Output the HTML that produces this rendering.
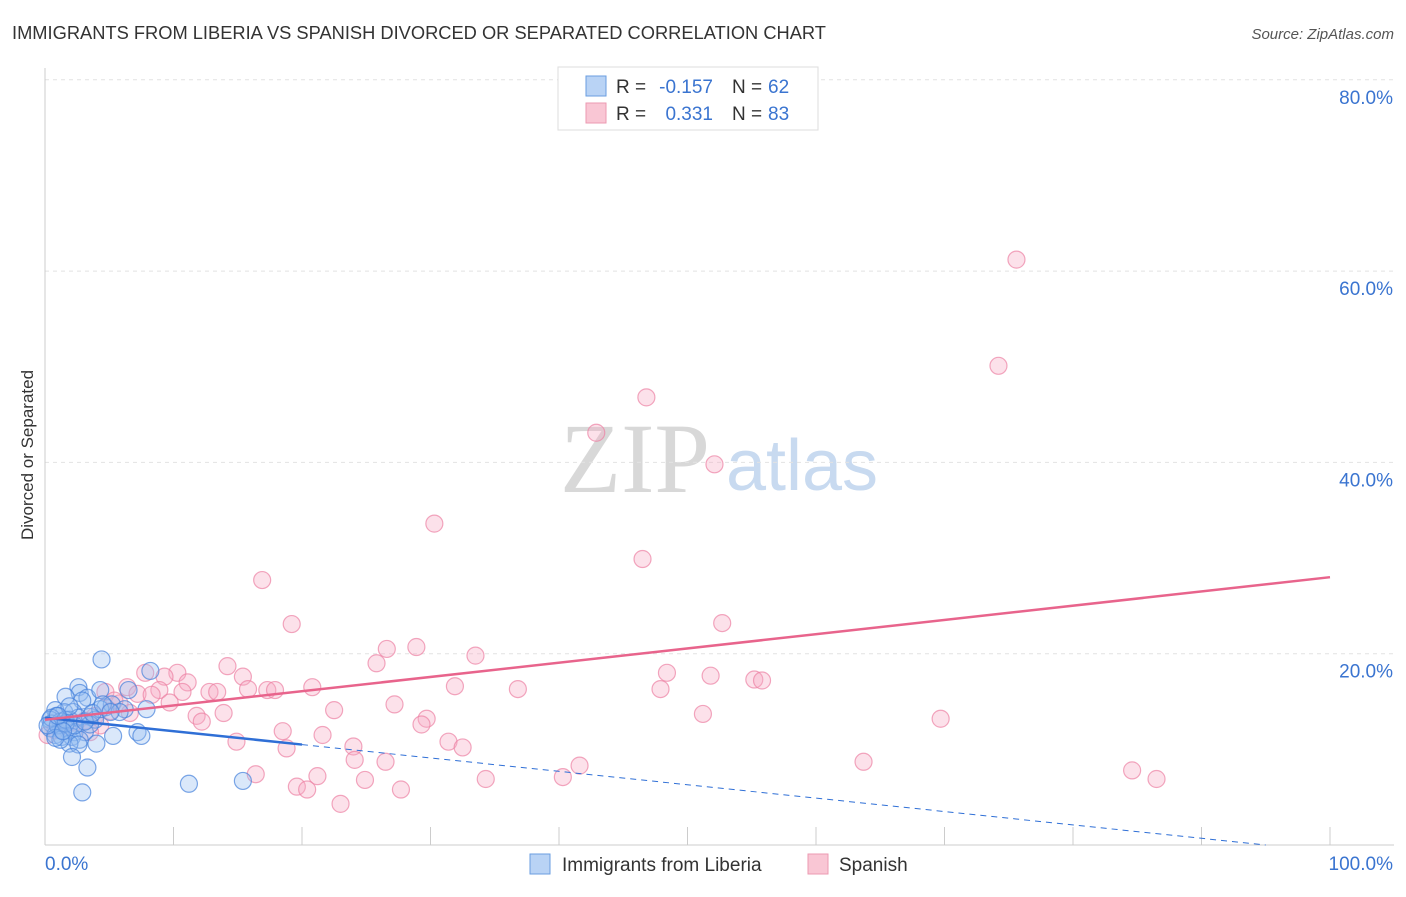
<!DOCTYPE html>
<html><head><meta charset="utf-8"><style>
body{margin:0;background:#fff;font-family:"Liberation Sans",sans-serif;}
svg text{font-family:"Liberation Sans",sans-serif;}
</style></head><body>
<svg id="c" width="1406" height="892">
<text x="12" y="39" font-size="18.3" fill="#333">IMMIGRANTS FROM LIBERIA VS SPANISH DIVORCED OR SEPARATED CORRELATION CHART</text>
<text x="1394" y="39" font-size="15" fill="#555" font-style="italic" text-anchor="end">Source: ZipAtlas.com</text>
<text transform="translate(33,455) rotate(-90)" font-size="17" fill="#333" text-anchor="middle">Divorced or Separated</text>
<text x="635" y="492" font-size="100" fill="#d8d8d8" style="font-family:'Liberation Serif',serif" text-anchor="middle">ZIP</text>
<text x="802" y="490" font-size="72" fill="#c8daf0" text-anchor="middle">atlas</text>
<g id="grid"></g><g id="pts"></g><g id="lines"></g>
<g>
<rect x="558" y="67" width="260" height="63" fill="#fff" stroke="#ddd"/>
<rect x="586" y="76" width="20" height="20" fill="#b9d3f5" stroke="#6a9ee0"/>
<rect x="586" y="103" width="20" height="20" fill="#f9c6d4" stroke="#ec9ab2"/>
<text x="616" y="93" font-size="19" fill="#333">R =</text>
<text x="713" y="93" font-size="19" fill="#3a74d0" text-anchor="end">-0.157</text>
<text x="732" y="93" font-size="19" fill="#333">N =</text>
<text x="768" y="93" font-size="19" fill="#3a74d0">62</text>
<text x="616" y="120" font-size="19" fill="#333">R =</text>
<text x="713" y="120" font-size="19" fill="#3a74d0" text-anchor="end">0.331</text>
<text x="732" y="120" font-size="19" fill="#333">N =</text>
<text x="768" y="120" font-size="19" fill="#3a74d0">83</text>
</g>
<g>
<rect x="530" y="854" width="20" height="20" fill="#b9d3f5" stroke="#6a9ee0"/>
<text x="562" y="871" font-size="19" fill="#333">Immigrants from Liberia</text>
<rect x="808" y="854" width="20" height="20" fill="#f9c6d4" stroke="#ec9ab2"/>
<text x="839" y="871" font-size="19" fill="#333">Spanish</text>
</g>
</svg>
<script>
const yTicks=[20,40,60,80];
const blueX=[4.4,2.6,2.7,1.6,3.3,2.9,4.3,6.5,8.2,1.5,2.2,0.8,0.9,0.4,0.5,1.2,1.9,2.6,3.5,3.9,4.7,5.2,6.2,7.9,1.2,1.8,2.3,3.1,0.4,0.8,1.3,2.1,2.7,1.9,2.6,4.0,5.3,7.2,7.5,2.1,3.3,2.9,11.2,15.4,0.5,1.0,1.6,3.5,4.3,5.8,1.2,1.6,2.3,3.1,0.8,0.2,1.4,3.7,4.5,1.9,5.1,1.0];
const blueY=[19.4,16.5,15.9,15.5,15.4,15.1,16.2,16.2,18.2,13.9,13.9,14.1,13.5,13.1,12.7,12.9,13.1,13.3,13.4,13.1,14.4,14.7,14.2,14.2,12.0,12.0,11.8,11.8,12.2,11.5,11.3,11.3,11.0,10.6,10.5,10.6,11.4,11.8,11.4,9.2,8.1,5.5,6.4,6.7,13.3,12.5,12.7,12.6,14.2,13.9,11.0,13.1,12.5,12.9,11.2,12.5,11.9,13.8,14.7,14.5,13.9,13.5];
const pinkX=[75.6,74.2,46.8,42.9,52.1,30.3,46.5,16.9,52.7,19.2,26.6,28.9,33.5,25.8,14.2,10.3,48.4,51.8,15.4,9.3,55.2,55.8,7.8,31.9,36.8,20.8,47.9,6.4,17.3,17.9,11.1,8.9,12.8,13.4,15.8,4.7,7.2,8.3,10.7,27.2,9.7,22.5,13.9,51.2,11.8,29.7,69.7,12.2,29.3,18.5,21.6,31.4,14.9,24.0,32.5,18.8,24.1,26.5,63.7,41.6,16.4,21.2,84.6,86.5,34.3,40.3,24.9,19.6,20.4,27.7,23.0,5.8,5.1,3.9,3.1,2.3,1.6,0.8,0.2,6.6,5.4,4.3,3.5];
const pinkY=[61.2,50.1,46.8,43.1,39.8,33.6,29.9,27.7,23.2,23.1,20.5,20.7,19.8,19.0,18.7,18.0,18.0,17.7,17.6,17.6,17.3,17.2,18.0,16.6,16.3,16.5,16.3,16.5,16.2,16.2,17.0,16.2,16.0,16.0,16.3,16.0,15.8,15.7,16.0,14.7,14.9,14.1,13.8,13.7,13.5,13.2,13.2,12.9,12.6,11.9,11.5,10.8,10.8,10.3,10.2,10.1,8.9,8.7,8.7,8.3,7.4,7.2,7.8,6.9,6.9,7.1,6.8,6.1,5.8,5.8,4.3,14.8,14.0,13.5,13.0,12.8,12.5,12.0,11.5,13.8,15.1,12.5,11.8];
const trendIntercept=[13.3,13.1];
const trendSlope=[-0.14,0.149];
const NS='http://www.w3.org/2000/svg';
const X=v=>45+v*12.85, Y=v=>845-v*9.565;
function mk(tag,attrs,parent){const e=document.createElementNS(NS,tag);for(const k in attrs)e.setAttribute(k,attrs[k]);parent.appendChild(e);return e;}
const grid=document.getElementById('grid');
yTicks.forEach(t=>{
 const l=mk('line',{x1:45,x2:1394,y1:Y(t),y2:Y(t),stroke:'#e2e2e2','stroke-dasharray':'4,4'},grid);
 
 
 const tx=mk('text',{x:1393,y:Y(t)+24,'font-size':19,fill:'#3a74d0','text-anchor':'end'},grid);
 tx.textContent=t.toFixed(1)+'%';
 
 
});
const ax=mk('line',{x1:45,x2:45,y1:68,y2:845,stroke:'#ccc'},grid);


const bx=mk('line',{x1:45,x2:1394,y1:845,y2:845,stroke:'#ccc'},grid);


for(let i=1;i<=10;i++){const t=mk('line',{x1:45+i*128.5,x2:45+i*128.5,y1:827,y2:845,stroke:'#ccc'},grid);
 
 }
const xl=mk('text',{x:45,y:870,'font-size':19,fill:'#3a74d0'},grid);xl.textContent='0.0%';


const xr=mk('text',{x:1393,y:870,'font-size':19,fill:'#3a74d0','text-anchor':'end'},grid);xr.textContent='100.0%';


const pts=document.getElementById('pts');
pinkX.forEach((v,i)=>{const c=mk('circle',{cx:X(v),cy:Y(pinkY[i]),r:8.5,fill:'rgba(246,170,194,0.35)',stroke:'rgba(236,130,164,0.7)','stroke-width':1.2},pts);
 
 });
blueX.forEach((v,i)=>{const c=mk('circle',{cx:X(v),cy:Y(blueY[i]),r:8.5,fill:'rgba(150,190,240,0.35)',stroke:'rgba(70,130,220,0.7)','stroke-width':1.2},pts);
 
 });
const lines=document.getElementById('lines');
const f=(k,x)=>trendIntercept[k]+trendSlope[k]*x;
const b1=mk('line',{x1:X(0),y1:Y(f(0,0)),x2:X(20),y2:Y(f(0,20)),stroke:'#2f6fd6','stroke-width':2.5},lines);


const xEnd=-trendIntercept[0]/trendSlope[0];
const b2=mk('line',{x1:X(20),y1:Y(f(0,20)),x2:X(xEnd),y2:Y(0),stroke:'#2f6fd6','stroke-width':1,'stroke-dasharray':'6,5'},lines);


const p1=mk('line',{x1:X(0),y1:Y(f(1,0)),x2:X(100),y2:Y(f(1,100)),stroke:'#e8648c','stroke-width':2.5},lines);


</script>
</body></html>
